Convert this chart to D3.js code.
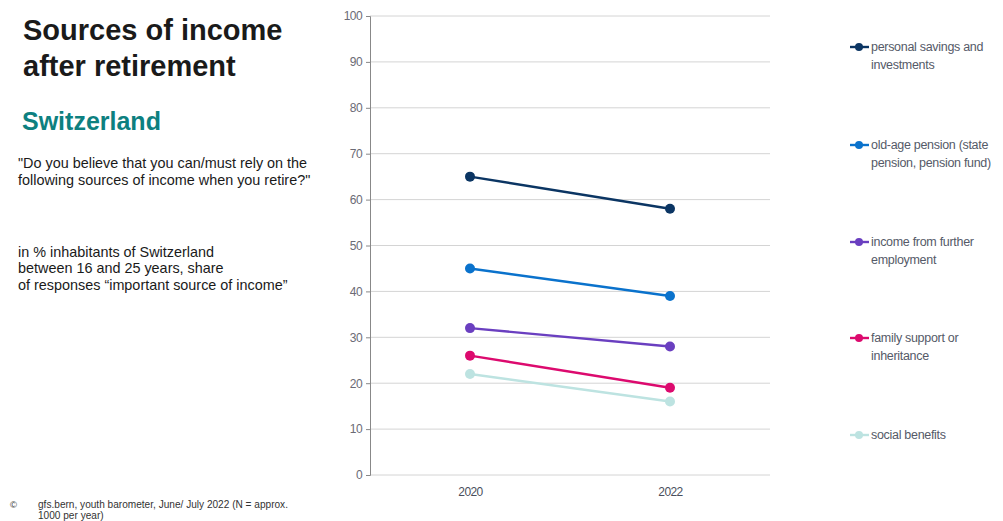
<!DOCTYPE html>
<html><head><meta charset="utf-8">
<script src="https://cdn.jsdelivr.net/npm/d3@7/dist/d3.min.js"></script>
<style>
body{margin:0;background:#fff;}
svg{display:block;}
</style></head>
<body>
<svg id="c" width="1003" height="521"></svg>
<script>
const years = ["2020", "2022"];
const seriesNames = [
  ["personal savings and", "investments"],
  ["old-age pension (state", "pension, pension fund)"],
  ["income from further", "employment"],
  ["family support or", "inheritance"],
  ["social benefits"]
];
const savings = [65, 58];
const pension = [45, 39];
const employment = [32, 28];
const family = [26, 19];
const social = [22, 16];
const seriesValues = [savings, pension, employment, family, social];
const seriesColors = ["#0b3563", "#0a72cc", "#6a3fc0", "#dc0a6e", "#bde3e1"];
const yTicks = [0, 10, 20, 30, 40, 50, 60, 70, 80, 90, 100];

const svg = d3.select("#c");
const narrow = "'Liberation Sans Narrow', 'Arial Narrow', 'Liberation Sans', sans-serif";
const sans = "'Liberation Sans', Arial, sans-serif";

// Left texts
svg.append("text").attr("x", 23).attr("y", 40).attr("font-family", sans).attr("font-weight", "bold")
  .attr("font-size", 29).attr("fill", "#1a1a1a").text("Sources of income");
svg.append("text").attr("x", 23).attr("y", 76).attr("font-family", sans).attr("font-weight", "bold")
  .attr("font-size", 29).attr("fill", "#1a1a1a").text("after retirement");
svg.append("text").attr("x", 22).attr("y", 130).attr("font-family", sans).attr("font-weight", "bold")
  .attr("font-size", 25).attr("fill", "#0d8080").text("Switzerland");
[["\"Do you believe that you can/must rely on the", 168], ["following sources of income when you retire?\"", 185]].forEach(([t, y]) =>
  svg.append("text").attr("x", 18).attr("y", y).attr("font-family", sans).attr("font-size", 14.4).attr("fill", "#1a1a1a").text(t));
[["in % inhabitants of Switzerland", 257], ["between 16 and 25 years, share", 273], ["of responses “important source of income”", 290]].forEach(([t, y]) =>
  svg.append("text").attr("x", 18).attr("y", y).attr("font-family", sans).attr("font-size", 14.4).attr("fill", "#1a1a1a").text(t));
svg.append("text").attr("x", 10).attr("y", 508).attr("font-family", sans).attr("font-size", 9.5).attr("fill", "#333").text("©");
svg.append("text").attr("x", 38).attr("y", 508).attr("font-family", sans).attr("font-size", 10.1).attr("fill", "#333").text("gfs.bern, youth barometer, June/ July 2022 (N = approx.");
svg.append("text").attr("x", 38).attr("y", 519).attr("font-family", sans).attr("font-size", 10.1).attr("fill", "#333").text("1000 per year)");

// Chart
const x = d3.scalePoint().domain(years).range([370, 770]).padding(0.5);
const y = d3.scaleLinear().domain([0, 100]).range([475, 16]);

const grid = svg.append("g");
grid.selectAll("line").data(yTicks).join("line")
  .attr("x1", 370).attr("x2", 770).attr("y1", d => y(d)).attr("y2", d => y(d))
  .attr("stroke", "#d4d4d4").attr("stroke-width", 1);

const yAxis = svg.append("g").attr("transform", "translate(370,0)")
  .call(d3.axisLeft(y).tickValues(yTicks).tickSize(4).tickPadding(4));
yAxis.select(".domain").attr("stroke", "#888");
yAxis.selectAll(".tick line").attr("stroke", "#888");
yAxis.selectAll("text").attr("font-family", narrow).attr("font-size", 12).attr("fill", "#6b6b75").attr("letter-spacing", -0.6);

const xAxis = svg.append("g").attr("transform", "translate(0,475)")
  .call(d3.axisBottom(x).tickSize(0).tickPadding(12));
xAxis.select(".domain").remove();
xAxis.selectAll("text").attr("font-family", narrow).attr("font-size", 12).attr("fill", "#4a4f5c").attr("letter-spacing", -0.6);

const line = d3.line().x((d, i) => x(years[i])).y(d => y(d));
seriesValues.forEach((vals, s) => {
  const g = svg.append("g");
  g.append("path").attr("d", line(vals)).attr("fill", "none")
    .attr("stroke", seriesColors[s]).attr("stroke-width", 2.4);
  g.selectAll("circle").data(vals).join("circle")
    .attr("cx", (d, i) => x(years[i])).attr("cy", d => y(d)).attr("r", 5)
    .attr("fill", seriesColors[s]);
});

// Legend
const legendY = [47, 145, 242, 338, 435];
seriesNames.forEach((lines, s) => {
  const g = svg.append("g").attr("transform", `translate(0,${legendY[s]})`);
  g.append("line").attr("x1", 850).attr("x2", 869).attr("y1", 0).attr("y2", 0)
    .attr("stroke", seriesColors[s]).attr("stroke-width", 2.4);
  g.append("circle").attr("cx", 859).attr("cy", 0).attr("r", 4).attr("fill", seriesColors[s]);
  lines.forEach((t, k) => {
    g.append("text").attr("x", 871).attr("y", 4 + k * 17.5).attr("font-family", narrow)
      .attr("font-size", 12.5).attr("fill", "#555a68").attr("letter-spacing", -0.3).text(t);
  });
});
</script>
</body></html>
